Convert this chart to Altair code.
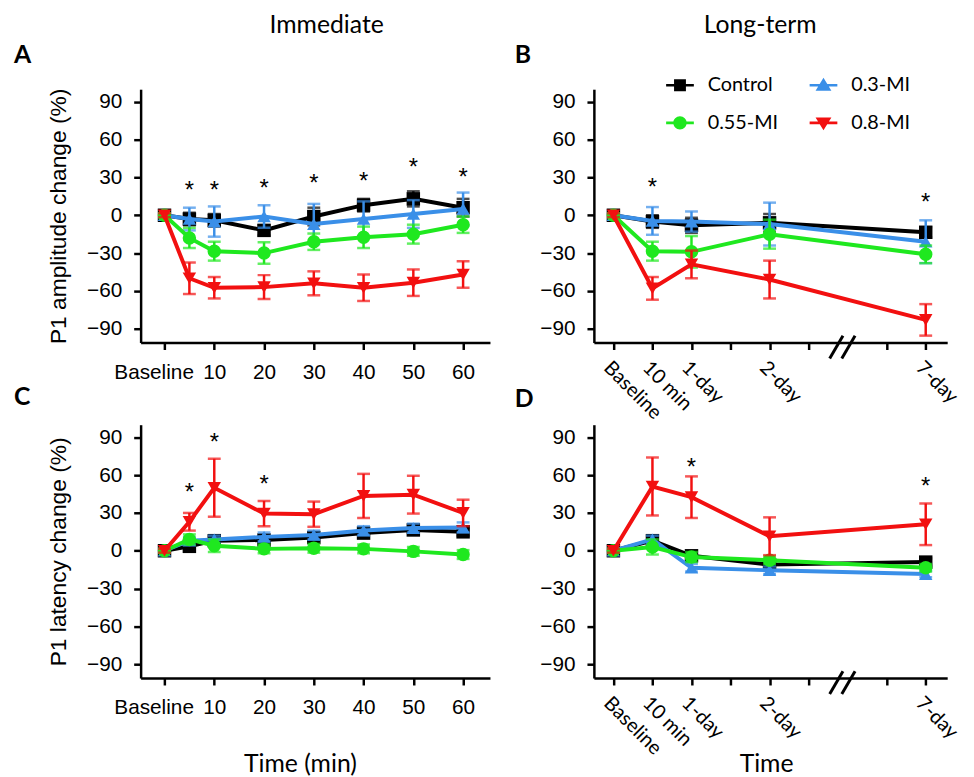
import altair as alt
import pandas as pd

# ---------------- data ----------------
groups = ["Control", "0.3-MI", "0.55-MI", "0.8-MI"]
colors = ["#000000", "#3a8fe8", "#1fe81f", "#f21010"]
shapes = ["square", "triangle-up", "circle", "triangle-down"]
legend_symbols = [
    "M-1.4,-0.13H1.4V0.13H-1.4Z M-0.6,-0.6H0.6V0.6H-0.6Z",
    "M-1.4,-0.13H1.4V0.13H-1.4Z M0,-0.75L0.8,0.55H-0.8Z",
    "M-1.4,-0.13H1.4V0.13H-1.4Z M-0.68,0A0.68,0.68 0 1,1 0.68,0A0.68,0.68 0 1,1 -0.68,0Z",
    "M-1.4,-0.13H1.4V0.13H-1.4Z M0,0.75L-0.8,-0.55H0.8Z",
]

# Immediate (minutes; 0 = Baseline)
imm_time = [0, 5, 10, 20, 30, 40, 50, 60]
imm_ticks = [0, 10, 20, 30, 40, 50, 60]
imm_tick_labels = ["Baseline", "10", "20", "30", "40", "50", "60"]

# Long-term (ordinal positions on axis)
lt_pos = [0, 1, 2, 4, 8]
lt_ticks = [0, 1, 2, 3, 4, 5, 7, 8]
lt_tick_labels = ["Baseline", "10 min", "1-day", "", "2-day", "", "", "7-day"]

# Panel A: P1 amplitude, immediate
ampA_ctrl = [0, -3, -4, -12, -1, 8, 13, 6]
ampA_ctrl_se = [1.5, 5, 5, 4, 7, 5, 6, 7]
ampA_03 = [0, -3, -5, -1, -7, -3, 1, 5]
ampA_03_se = [1.5, 9, 12, 9, 16, 14, 11, 13]
ampA_055 = [0, -18, -28.5, -30, -21, -17.5, -15, -7.5]
ampA_055_se = [1.5, 8, 7.5, 8.5, 6.5, 8.5, 7.5, 6.5]
ampA_08 = [0, -50, -57.5, -57, -54, -57.5, -53.5, -47]
ampA_08_se = [1.5, 12.5, 8.5, 9.5, 9.5, 10.5, 10.5, 10.5]
starA_x = [5, 10, 20, 30, 40, 50, 60]
starA_y = [25, 25, 26, 30, 32, 43, 35]

# Panel B: P1 amplitude, long-term
ampB_ctrl = [0, -5, -8, -6, -13.5]
ampB_ctrl_se = [1.5, 5, 6, 7, 4]
ampB_03 = [0, -4.5, -5, -7, -21]
ampB_03_se = [1.5, 11, 8, 17, 17]
ampB_055 = [0, -28.5, -29, -15, -31]
ampB_055_se = [1.5, 7.5, 12.5, 11.5, 7]
ampB_08 = [0, -58, -39, -51, -83]
ampB_08_se = [1.5, 9, 11, 15, 12.5]
starB_x = [1, 8]
starB_y = [27, 15.5]

# Panel C: P1 latency, immediate
latC_ctrl = [0, 3.5, 8, 8.5, 10.5, 14, 16.5, 15]
latC_ctrl_se = [1.5, 3, 3, 3, 3, 3, 3, 3]
latC_03 = [0, 8, 9, 11, 12.5, 16, 18, 18.5]
latC_03_se = [1.5, 3, 3, 3.5, 3.5, 3.5, 3.5, 4]
latC_055 = [0, 9, 4, 1.5, 2, 1.5, -0.5, -3]
latC_055_se = [1.5, 4, 5, 3.5, 3.5, 3.5, 3.5, 3.5]
latC_08 = [0, 23, 50, 29.5, 29, 43.5, 44.5, 30]
latC_08_se = [1.5, 7, 23, 10, 10, 17.5, 15, 10.5]
starC_x = [5, 10, 20]
starC_y = [51, 91, 58]

# Panel D: P1 latency, long-term
latD_ctrl = [0, 8, -4, -11, -9]
latD_ctrl_se = [1.5, 3, 3, 3, 3]
latD_03 = [0, 9, -13.5, -15.5, -18.5]
latD_03_se = [1.5, 3, 3, 3, 2.5]
latD_055 = [0, 3, -5, -7.5, -13.5]
latD_055_se = [1.5, 6, 4, 3, 3]
latD_08 = [0, 51, 42.5, 11.5, 21]
latD_08_se = [1.5, 23, 16.5, 15, 16.5]
starD_x = [2, 8]
starD_y = [71, 56]

y_ticks = [-90, -60, -30, 0, 30, 60, 90]
y_domain = [-101, 100]
break_x1 = [5.54, 5.85]
break_x2 = [5.88, 6.19]

# ---------------- layout ----------------
H = 256
WL = 353
WR = 357
imm_domain = [-4.8, 65.4]
lt_domain = [-0.5, 8.55]


def label_expr(vals, labels):
    expr = "''"
    for v, l in reversed(list(zip(vals, labels))):
        expr = f"(datum.value == {v} ? '{l}' : {expr})"
    return expr


def make_df(xs, series):
    rows = []
    for g, (m, s) in zip(groups, series):
        for x, mm, ss in zip(xs, m, s):
            rows.append(dict(group=g, x=x, m=mm, lo=mm - ss, hi=mm + ss))
    return pd.DataFrame(rows)


def imm_axis(title=None):
    kw = dict(
        values=imm_ticks,
        labelExpr=label_expr(imm_ticks, imm_tick_labels),
        labelOverlap=False,
        labelFlush=False,
        labelPadding=12,
        labelOffset={"condition": {"test": "datum.value == 0", "value": -11}, "value": 0},
    )
    if title:
        kw.update(title=title, titleX=161, titleY=86, titleBaseline="middle",
                  titleAlign="center", titleFont="Lato", titleFontSize=25)
    else:
        kw.update(title=None)
    return alt.Axis(**kw)


def lt_axis(title=None):
    kw = dict(
        values=lt_ticks,
        labelExpr=label_expr(lt_ticks, lt_tick_labels),
        labelOverlap=False,
        labelFlush=False,
        labelAngle=45,
        labelAlign="left",
        labelBaseline="top",
        labelPadding=8,
        labelFont="Lato",
        labelFontSize=20,
    )
    if title:
        kw.update(title=title, titleX=174, titleY=86, titleBaseline="middle",
                  titleAlign="center", titleFont="Lato", titleFontSize=25)
    else:
        kw.update(title=None)
    return alt.Axis(**kw)


def y_axis(title=None):
    if title:
        return alt.Axis(values=y_ticks, title=title, titlePadding=16, labelOverlap=False)
    return alt.Axis(values=y_ticks, title=None, labelOverlap=False)


one = pd.DataFrame({"a": [0]})


def text_layer(txt, x, y, size, bold=False, align="left"):
    return alt.Chart(one).mark_text(
        text=txt, font="Lato", fontSize=size, fontWeight="bold" if bold else "normal",
        align=align, baseline="alphabetic", color="black"
    ).encode(x=alt.value(x), y=alt.value(y))


def panel(df, xdomain, xaxis, yaxis, width, sx, sy, letter, letter_x, letter_y,
          header=None, header_x=None, breaks=False, legend=False):
    xs = alt.Scale(domain=xdomain, nice=False, zero=False)
    ys = alt.Scale(domain=y_domain, nice=False, zero=False)

    def X(f):
        return alt.X(f"{f}:Q", scale=xs, axis=xaxis)

    def Y(f):
        return alt.Y(f"{f}:Q", scale=ys, axis=yaxis)

    layers = []
    base = alt.Chart(df)
    for g, c, s in zip(groups, colors, shapes):
        sub = base.transform_filter(alt.datum.group == g)
        layers.append(sub.mark_line(color=c, strokeWidth=4).encode(x=X("x"), y=Y("m")))
        layers.append(sub.mark_rule(color=c, strokeWidth=2.5).encode(x=X("x"), y=Y("lo"), y2="hi:Q"))
        layers.append(
            sub.transform_fold(["lo", "hi"], as_=["k", "v"])
            .mark_tick(color=c, orient="horizontal", size=13, thickness=2.5)
            .encode(x=X("x"), y=Y("v"))
        )
        layers.append(
            sub.mark_point(filled=True, shape=s, size=185, color=c, opacity=1)
            .encode(x=X("x"), y=Y("m"))
        )
    stars = pd.DataFrame({"x": sx, "m": sy})
    layers.append(
        alt.Chart(stars).mark_text(text="*", font="Liberation Sans", fontSize=24,
                                   baseline="alphabetic", dy=14, color="black")
        .encode(x=X("x"), y=Y("m"))
    )
    if breaks:
        brk = pd.DataFrame({"bx": break_x1, "bx2": break_x2})
        layers.append(
            alt.Chart(brk).mark_rule(color="black", strokeWidth=3)
            .encode(x=X("bx"), x2="bx2:Q", y=alt.value(H + 16), y2=alt.value(H - 7))
        )
    if legend:
        leg_df = pd.DataFrame({"group": groups, "x": [-20] * 4, "m": [0] * 4})
        leg_props = dict(orient="none", legendX=535, legendY=-14, columns=2, direction="horizontal",
                         title=None, labelFont="Lato", labelFontSize=20, labelColor="black",
                         symbolSize=400, symbolStrokeWidth=0, labelOffset=18,
                         columnPadding=31, rowPadding=18, padding=0)
        layers.append(
            alt.Chart(leg_df).mark_point(filled=True, clip=True, size=400, opacity=1)
            .encode(
                x=X("x"), y=Y("m"),
                color=alt.Color("group:N", scale=alt.Scale(domain=groups, range=colors),
                                legend=alt.Legend(**leg_props)),
                shape=alt.Shape("group:N", scale=alt.Scale(domain=groups, range=legend_symbols),
                                legend=alt.Legend(**leg_props)),
            )
        )
    layers.append(text_layer(letter, letter_x, letter_y, 25, bold=True))
    if header:
        layers.append(text_layer(header, header_x, -57, 25, align="center"))
    return alt.layer(*layers).properties(width=width, height=H)


dfA = make_df(imm_time, [(ampA_ctrl, ampA_ctrl_se), (ampA_03, ampA_03_se),
                         (ampA_055, ampA_055_se), (ampA_08, ampA_08_se)])
dfB = make_df(lt_pos, [(ampB_ctrl, ampB_ctrl_se), (ampB_03, ampB_03_se),
                       (ampB_055, ampB_055_se), (ampB_08, ampB_08_se)])
dfC = make_df(imm_time, [(latC_ctrl, latC_ctrl_se), (latC_03, latC_03_se),
                         (latC_055, latC_055_se), (latC_08, latC_08_se)])
dfD = make_df(lt_pos, [(latD_ctrl, latD_ctrl_se), (latD_03, latD_03_se),
                       (latD_055, latD_055_se), (latD_08, latD_08_se)])

pA = panel(dfA, imm_domain, imm_axis(), y_axis("P1 amplitude change (%)"), WL,
           starA_x, starA_y, "A", -128, -26, header="Immediate", header_x=188)
pB = panel(dfB, lt_domain, lt_axis(), y_axis(), WR, starB_x, starB_y, "B", -80, -26,
           header="Long-term", header_x=168, breaks=True, legend=True)
pC = panel(dfC, imm_domain, imm_axis("Time (min)"), y_axis("P1 latency change (%)"), WL,
           starC_x, starC_y, "C", -128, -20)
pD = panel(dfD, lt_domain, lt_axis("Time"), y_axis(), WR, starD_x, starD_y, "D", -80, -18,
           breaks=True)

chart = (
    alt.concat(pA, pB, pC, pD, columns=2, spacing={"row": 83, "column": 105}, bounds="flush")
    .properties(padding={"left": 6, "top": 1, "right": 5, "bottom": 5}, background="white")
    .configure_view(stroke=None)
    .configure_axis(
        domainColor="black", domainWidth=2.5, tickColor="black", tickWidth=2.5, tickSize=7,
        labelColor="black", labelFont="Liberation Sans", labelFontSize=21,
        titleFont="Liberation Sans", titleFontSize=23, titleFontWeight="normal",
        titleColor="black", grid=False, labelPadding=12,
    )
)

chart.save("out.html", embed_options={"renderer": "svg", "actions": False})
